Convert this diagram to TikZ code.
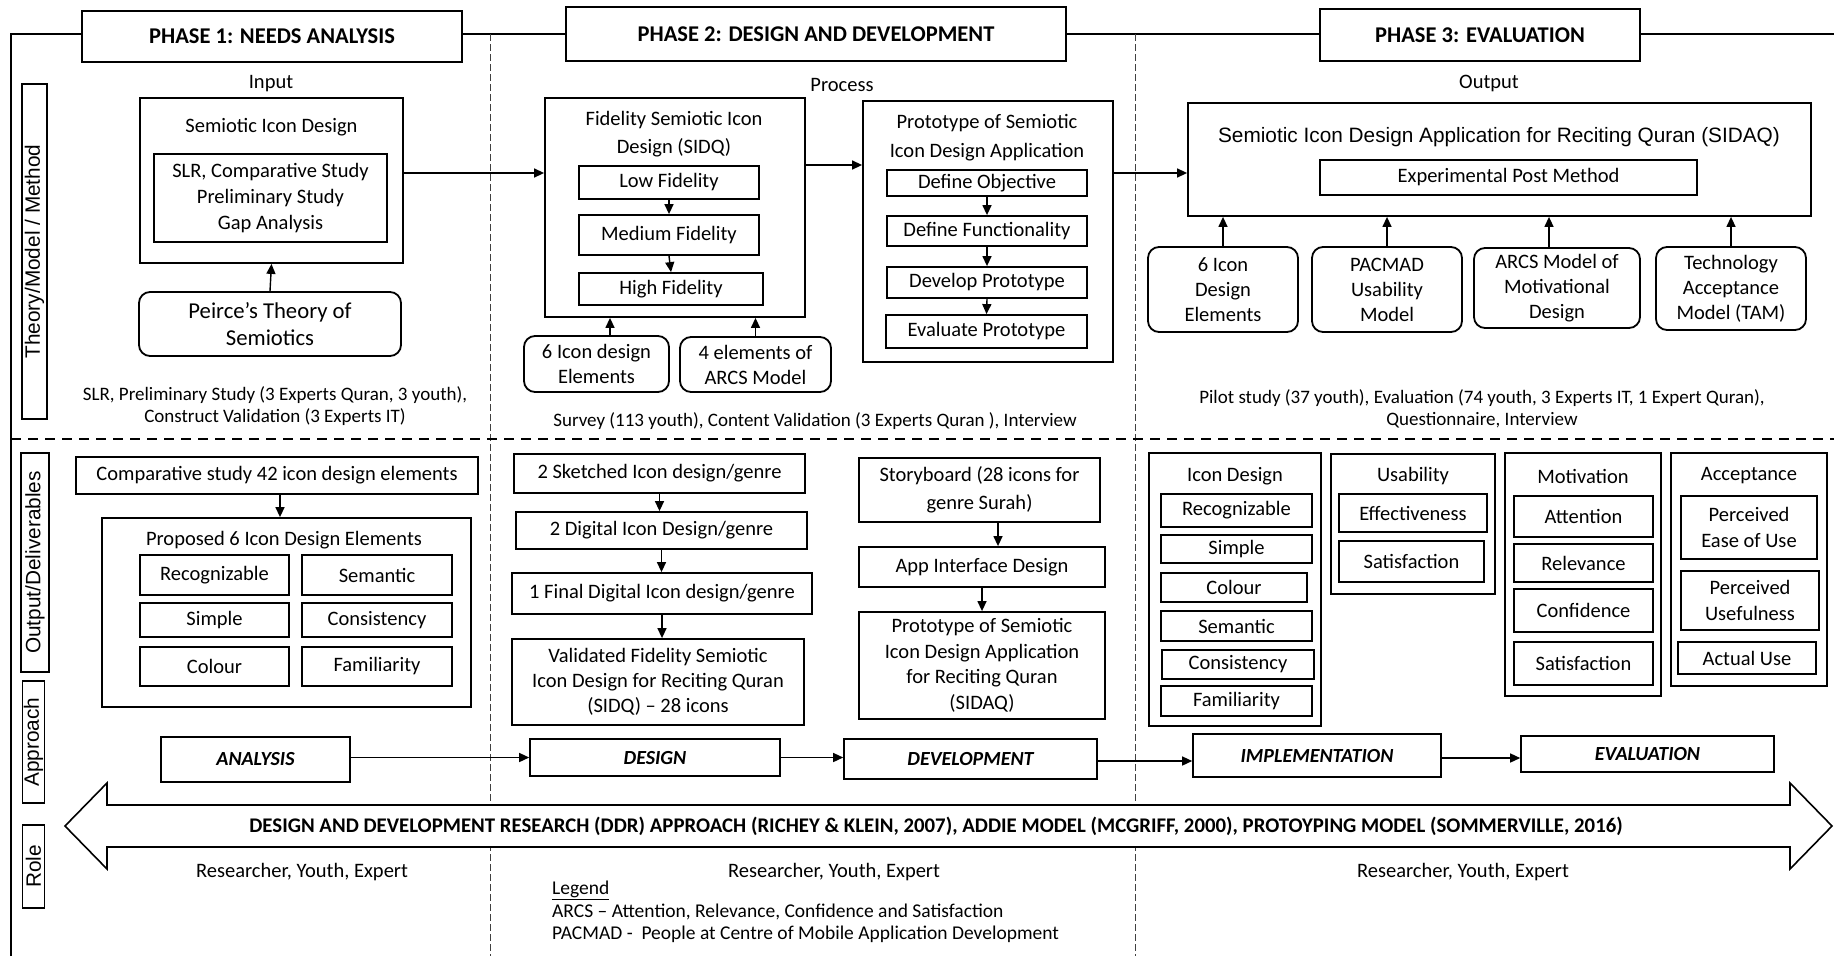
\documentclass[tikz,border=0pt]{standalone}
\usepackage{fontspec}
\setmainfont{Carlito}
\newfontfamily\arialfont{Liberation Sans}
\usetikzlibrary{arrows.meta}

\begin{document}
\begin{tikzpicture}[
    x=1pt, y=-1pt,
    font=\fontsize{20.5}{26}\selectfont,
    >={Triangle[length=10pt,width=9pt]},
    sz/.style 2 args={minimum width=#1pt, minimum height=#2pt},
    phase/.style={
        draw,
        fill=white,
        line width=1.8pt,
        inner sep=1pt,
        font=\fontsize{22.5}{27}\selectfont\bfseries
    },
    sidetag/.style={
        draw,
        line width=1.8pt,
        rotate=90,
        inner sep=0pt,
        font=\arialfont\fontsize{20.8}{25}\selectfont
    },
    box/.style={
        draw,
        line width=1.8pt,
        align=center,
        inner sep=1pt
    },
    rbox/.style={
        box,
        rounded corners=11pt
    },
    group/.style={
        draw,
        line width=1.8pt,
        inner sep=0pt
    },
    caption/.style={
        align=center,
        inner sep=0pt,
        font=\fontsize{19}{22}\selectfont
    },
    stage/.style={
        draw,
        line width=1.6pt,
        inner sep=1pt,
        font=\fontsize{20}{24}\selectfont\bfseries\itshape
    },
    arrow/.style={
        ->,
        line width=1.4pt
    },
    divider/.style={
        dash pattern=on 7pt off 3pt,
        line width=0.8pt,
        draw=black!75
    }
]
    \useasboundingbox (0,0) rectangle (1834,956);

    % frame and phase dividers
    \draw[line width=1.6pt] (11,956) -- (11,34) -- (1834,34);
    \draw[divider] (490,34) -- (490,956);
    \draw[divider] (1135,34) -- (1135,956);
    \draw[dash pattern=on 10pt off 7pt, line width=1.4pt] (11,439) -- (1834,439);

    % 1. Phase headers
    \node[phase, sz={380}{51}] (phase1) at (272,36.5) {PHASE 1: NEEDS ANALYSIS};
    \node[phase, sz={500}{54}] (phase2) at (816,34) {PHASE 2: DESIGN AND DEVELOPMENT};
    \node[phase, sz={320}{52}] (phase3) at (1480,35) {PHASE 3: EVALUATION};

    % row tags on the left
    \node[sidetag, sz={335}{25}] (tagtheory) at (34.5,251.5) {Theory/Model / Method};
    \node[sidetag, sz={219}{28}] (tagoutput) at (35,562.5) {Output/Deliverables};
    \node[sidetag, sz={122}{22}] (tagapproach) at (33.5,742) {Approach};
    \node[sidetag, sz={83}{22}] (tagrole) at (33.5,866.5) {Role};

    % 2. Theory / model / method row
    \node (input) at (271,84) {Input};
    \node (process) at (842,85) {Process};
    \node (output) at (1489,83) {Output};

    % phase 1: input
    \node[group, sz={263}{165}] (sidouter) at (271.5,180.5) {};
    \node (sidtitle) at (271.5,127) {Semiotic Icon Design};
    \node[box, sz={233}{88}] (sidinner) at (270.5,198) {SLR, Comparative Study\\Preliminary Study\\Gap Analysis};
    \node[rbox, sz={262}{64}, font=\fontsize{22.7}{27}\selectfont] (peirce) at (270,324) {Peirce’s Theory of\\Semiotics};
    \node[caption] (cap1) at (275,406) {SLR, Preliminary Study (3 Experts Quran, 3 youth),\\Construct Validation (3 Experts IT)};

    % phase 2: process
    \node[group, sz={260}{219}] (fid) at (675,207.5) {};
    \node[align=center, font=\fontsize{20.5}{28}\selectfont] (fidtitle) at (674,134) {Fidelity Semiotic Icon\\Design (SIDQ)};
    \node[box, sz={180}{33}] (low) at (669,182.5) {Low Fidelity};
    \node[box, sz={180}{40}] (medium) at (669,235) {Medium Fidelity};
    \node[box, sz={184}{32}] (high) at (671,289) {High Fidelity};
    \node[rbox, sz={145}{56}, font=\fontsize{20.5}{25}\selectfont] (sixdesign) at (596.5,364) {6 Icon design\\Elements};
    \node[rbox, sz={151}{55}, font=\fontsize{20.5}{25}\selectfont] (arcsfour) at (755.5,364.5) {4 elements of\\ARCS Model};

    \node[group, sz={250}{261}] (proto) at (988,231.5) {};
    \node[align=center, font=\fontsize{20.5}{29}\selectfont] (prototitle) at (987,137.5) {Prototype of Semiotic\\Icon Design Application};
    \node[box, sz={200}{26}] (defobj) at (987,183) {Define Objective};
    \node[box, sz={200}{30}] (deffunc) at (987,231) {Define Functionality};
    \node[box, sz={200}{31}] (devproto) at (987,282.5) {Develop Prototype};
    \node[box, sz={201}{33}] (evalproto) at (986.5,331.5) {Evaluate Prototype};
    \node[caption] (cap2) at (815,421) {Survey (113 youth), Content Validation (3 Experts Quran ), Interview};

    % phase 3: output
    \node[group, sz={623}{113}] (sidaq) at (1499.5,159.5) {};
    \node[font=\arialfont\fontsize{20.8}{25}\selectfont] (sidaqtitle) at (1499,137) {Semiotic Icon Design Application for Reciting Quran (SIDAQ)};
    \node[box, sz={377}{35}] (exppost) at (1508.5,177.5) {Experimental Post Method};
    \node[rbox, sz={150}{85}, font=\fontsize{20.5}{25}\selectfont] (sixelem) at (1223,289.5) {6 Icon\\Design\\Elements};
    \node[rbox, sz={150}{85}, font=\fontsize{20.5}{25}\selectfont] (pacmad) at (1387,289.5) {PACMAD\\Usability\\Model};
    \node[rbox, sz={166}{80}, font=\fontsize{20.5}{25}\selectfont] (arcsmodel) at (1557,288) {ARCS Model of\\Motivational\\Design};
    \node[rbox, sz={150}{83}, font=\fontsize{20.5}{25}\selectfont] (tam) at (1731,288.5) {Technology\\Acceptance\\Model (TAM)};
    \node[caption] (cap3) at (1482,408.5) {Pilot study (37 youth), Evaluation (74 youth, 3 Experts IT, 1 Expert Quran),\\Questionnaire, Interview};

    % 3. Output / deliverables row
    \node[box, sz={402}{37}] (compare) at (277,475.5) {Comparative study 42 icon design elements};
    \node[group, sz={369}{189}] (proposed) at (286.5,612.5) {};
    \node (proposedtitle) at (284,540) {Proposed 6 Icon Design Elements};
    \node[box, sz={149}{40}] (precog) at (214.5,575) {Recognizable};
    \node[box, sz={149}{34}] (psimple) at (214.5,620) {Simple};
    \node[box, sz={149}{39}] (pcolour) at (214.5,666.5) {Colour};
    \node[box, sz={150}{40}] (psemantic) at (377,575) {Semantic};
    \node[box, sz={150}{34}] (pconsist) at (377,620) {Consistency};
    \node[box, sz={150}{39}] (pfamiliar) at (377,666.5) {Familiarity};

    \node[box, sz={291}{39}] (sketched) at (659.5,473.5) {2 Sketched Icon design/genre};
    \node[box, sz={291}{37}] (digital) at (661.5,530.5) {2 Digital Icon Design/genre};
    \node[box, sz={300}{41}] (final) at (662,593.5) {1 Final Digital Icon design/genre};
    \node[box, sz={292}{86}, font=\fontsize{20.5}{25}\selectfont] (validated) at (658,682) {Validated Fidelity Semiotic\\Icon Design for Reciting Quran\\(SIDQ) – 28 icons};

    \node[box, sz={241}{64}, font=\fontsize{20.5}{28}\selectfont] (story) at (979.5,490) {Storyboard (28 icons for\\genre Surah)};
    \node[box, sz={246}{40}] (appui) at (982,567) {App Interface Design};
    \node[box, sz={246}{107}, font=\fontsize{20.5}{25.5}\selectfont] (protoapp) at (982,665.5) {Prototype of Semiotic\\Icon Design Application\\for Reciting Quran\\(SIDAQ)};

    \node[group, sz={172}{273}] (icongrp) at (1235,589.5) {};
    \node (icontitle) at (1235,476) {Icon Design};
    \node[box, sz={151}{33}] (irecog) at (1236.5,510.5) {Recognizable};
    \node[box, sz={151}{28}] (isimple) at (1236.5,549) {Simple};
    \node[box, sz={146}{29}] (icolour) at (1234,587.5) {Colour};
    \node[box, sz={151}{30}] (isemantic) at (1236.5,626) {Semantic};
    \node[box, sz={152}{29}] (iconsist) at (1238,664.5) {Consistency};
    \node[box, sz={151}{30}] (ifamiliar) at (1236.5,701) {Familiarity};

    \node[group, sz={164}{140}] (usegrp) at (1413,524) {};
    \node (usetitle) at (1413,476) {Usability};
    \node[box, sz={148}{38}] (effective) at (1413,513) {Effectiveness};
    \node[box, sz={145}{41}] (usesatis) at (1411.5,561.5) {Satisfaction};

    \node[group, sz={156}{243}] (motgrp) at (1583,574.5) {};
    \node (mottitle) at (1583,476) {Motivation};
    \node[box, sz={139}{41}] (attention) at (1583.5,516.5) {Attention};
    \node[box, sz={139}{38}] (relevance) at (1583.5,563) {Relevance};
    \node[box, sz={139}{43}] (confidence) at (1583.5,610.5) {Confidence};
    \node[box, sz={139}{43}] (motsatis) at (1583.5,663.5) {Satisfaction};

    \node[group, sz={156}{233}] (accgrp) at (1749,569.5) {};
    \node (acctitle) at (1749,476) {Acceptance};
    \node[box, sz={136}{63}] (easeuse) at (1749,527.5) {Perceived\\Ease of Use};
    \node[box, sz={138}{59}] (useful) at (1750,600.5) {Perceived\\Usefulness};
    \node[box, sz={138}{32}] (actual) at (1747,658) {Actual Use};

    % 4. Approach row (ADDIE stages)
    \node[stage, sz={189}{45}] (analysis) at (255.5,759.5) {ANALYSIS};
    \node[stage, sz={250}{37}] (design) at (655,757.5) {DESIGN};
    \node[stage, sz={253}{40}] (develop) at (970.5,759) {DEVELOPMENT};
    \node[stage, sz={248}{43}] (implement) at (1317,755.5) {IMPLEMENTATION};
    \node[stage, sz={253}{36}] (evaluate) at (1647.5,754) {EVALUATION};

    % research approach banner
    \draw[line width=1.6pt, fill=white] (65,826) -- (107,783) -- (107,805) -- (1790,805) -- (1790,783)
        -- (1832,826) -- (1790,869) -- (1790,847) -- (107,847) -- (107,869) -- cycle;
    \node[font=\fontsize{20.8}{24}\selectfont\bfseries] (ddr) at (936,826) {DESIGN AND DEVELOPMENT RESEARCH (DDR) APPROACH (RICHEY \& KLEIN, 2007), ADDIE MODEL (MCGRIFF, 2000), PROTOYPING MODEL (SOMMERVILLE, 2016)};

    % 5. Role row and legend
    \node[font=\fontsize{20.5}{24}\selectfont] (role1) at (302,872) {Researcher, Youth, Expert};
    \node[font=\fontsize{20.5}{24}\selectfont] (role2) at (834,872) {Researcher, Youth, Expert};
    \node[font=\fontsize{20.5}{24}\selectfont] (role3) at (1463,872) {Researcher, Youth, Expert};
    \node[anchor=west, align=left, inner sep=0pt, font=\fontsize{19.5}{22.5}\selectfont] (legend) at (552,912)
        {\underline{Legend}\\ARCS – Attention, Relevance, Confidence and Satisfaction\\PACMAD -~ People at Centre of Mobile Application Development};

    % Connections
    \draw[arrow] (peirce.north) -- (sidouter.south);
    \draw[arrow] ([yshift=7.5pt]sidouter.east) -- ([yshift=7.5pt]sidouter.east -| fid.west);
    \draw[arrow] (low.south) -- (medium.north);
    \draw[arrow] (medium.south) -- (high.north);
    \draw[arrow] ([xshift=13.5pt]sixdesign.north) -- ([xshift=13.5pt]sixdesign.north |- fid.south);
    \draw[arrow] (arcsfour.north) -- (arcsfour.north |- fid.south);
    \draw[arrow] ([yshift=42.5pt]fid.east) -- ([yshift=42.5pt]fid.east -| proto.west);
    \draw[arrow] (defobj.south) -- (deffunc.north);
    \draw[arrow] (deffunc.south) -- (devproto.north);
    \draw[arrow] (devproto.south) -- (evalproto.north);
    \draw[arrow] ([yshift=58.5pt]proto.east) -- ([yshift=58.5pt]proto.east -| sidaq.west);

    \draw[arrow] (sixelem.north) -- (sixelem.north |- sidaq.south);
    \draw[arrow] (pacmad.north) -- (pacmad.north |- sidaq.south);
    \draw[arrow] ([xshift=-8pt]arcsmodel.north) -- ([xshift=-8pt]arcsmodel.north |- sidaq.south);
    \draw[arrow] (tam.north) -- (tam.north |- sidaq.south);

    \draw[arrow] ([xshift=3pt]compare.south) -- ([xshift=3pt]compare.south |- proposed.north);
    \draw[arrow] (sketched.south) -- (sketched.south |- digital.north);
    \draw[arrow] (digital.south) -- (digital.south |- final.north);
    \draw[arrow] (final.south) -- (final.south |- validated.north);
    \draw[arrow] ([xshift=18.5pt]story.south) -- ([xshift=18.5pt]story.south |- appui.north);
    \draw[arrow] (appui.south) -- (protoapp.north);

    \draw[arrow] ([yshift=2pt]analysis.east) -- ([yshift=2pt]analysis.east -| design.west);
    \draw[arrow] (design.east) -- (design.east -| develop.west);
    \draw[arrow] ([yshift=-2pt]develop.east) -- ([yshift=-2pt]develop.east -| implement.west);
    \draw[arrow] ([yshift=-2.5pt]implement.east) -- ([yshift=-2.5pt]implement.east -| evaluate.west);

\end{tikzpicture}
\end{document}
